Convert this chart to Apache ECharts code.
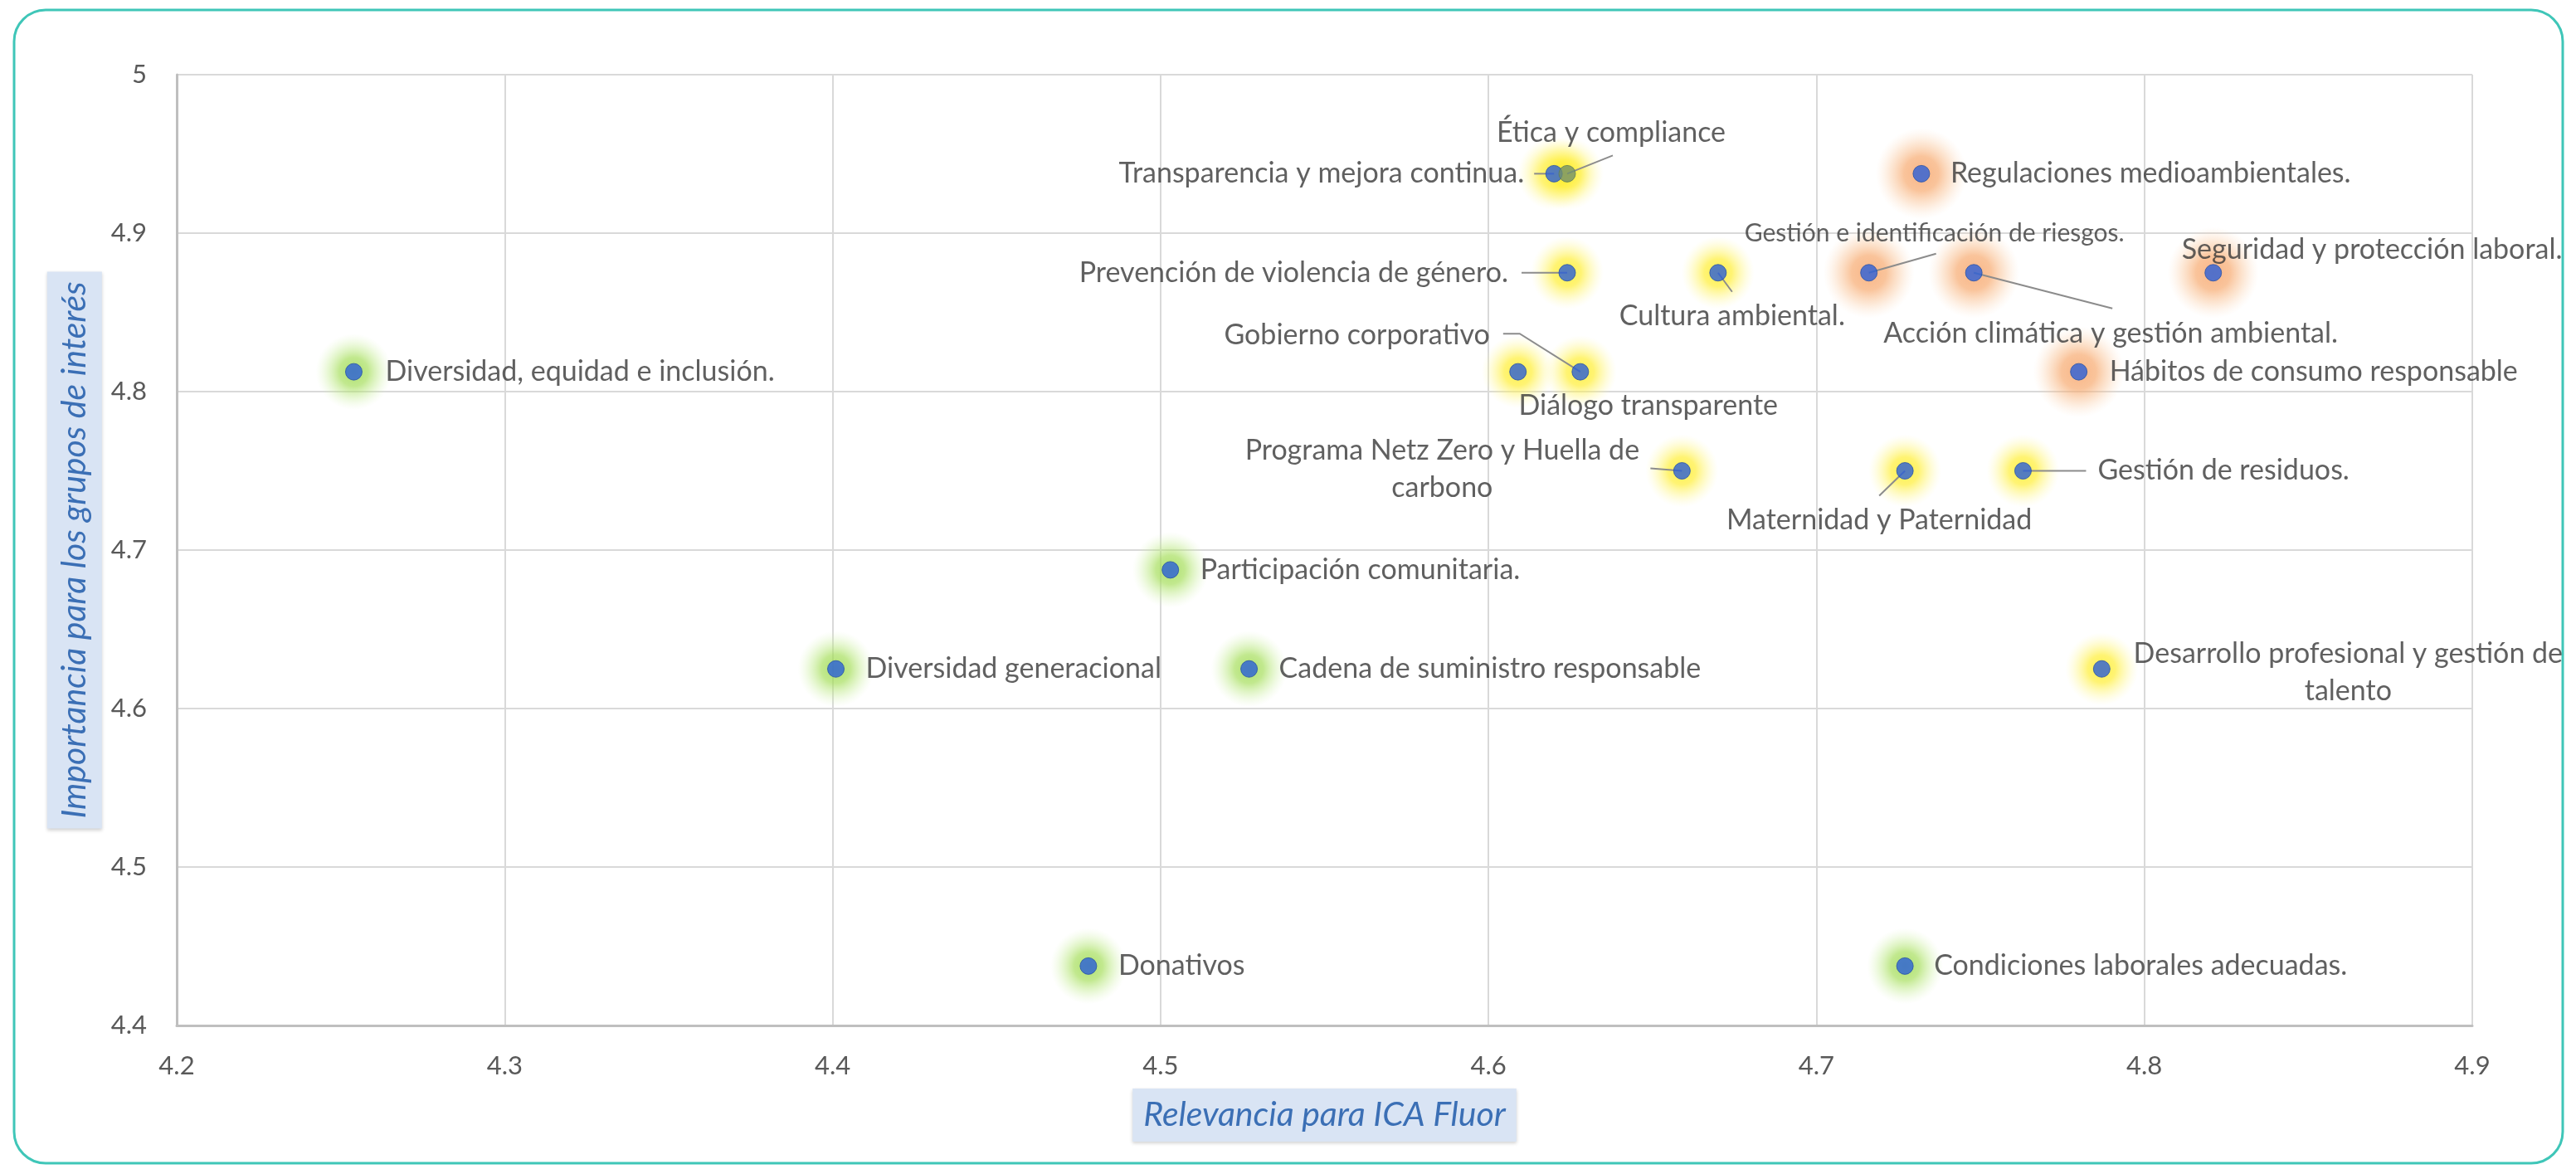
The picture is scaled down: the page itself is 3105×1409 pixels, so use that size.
<!DOCTYPE html>
<html>
<head>
<meta charset="utf-8">
<script src="https://cdn.jsdelivr.net/npm/echarts@6/dist/echarts.min.js"></script>
<style>
  html, body { margin: 0; padding: 0; background: #ffffff; }
  #chart { width: 3105px; height: 1409px; }
</style>
</head>
<body>
<div id="chart"></div>
<script>
// temas materiales
const temas = [
  'Diversidad, equidad e inclusión.',
  'Diversidad generacional',
  'Participación comunitaria.',
  'Donativos',
  'Cadena de suministro responsable',
  'Condiciones laborales adecuadas.',
  'Regulaciones medioambientales.',
  'Hábitos de consumo responsable',
  'Seguridad y protección laboral.',
  'Gestión de residuos.',
  'Desarrollo profesional y gestión de\ntalento',
  'Transparencia y mejora continua.',
  'Ética y compliance',
  'Prevención de violencia de género.',
  'Cultura ambiental.',
  'Gestión e identificación de riesgos.',
  'Acción climática y gestión ambiental.',
  'Gobierno corporativo',
  'Diálogo transparente',
  'Programa Netz Zero y Huella de\ncarbono',
  'Maternidad y Paternidad'
];
// eje x: relevancia para ICA Fluor
const relevancia = [4.254, 4.401, 4.503, 4.478, 4.527, 4.727, 4.732, 4.780, 4.821, 4.763, 4.787,
                    4.620, 4.624, 4.624, 4.670, 4.716, 4.748, 4.628, 4.609, 4.659, 4.727];
// eje y: importancia para los grupos de interés
const importancia = [4.8125, 4.625, 4.6875, 4.4375, 4.625, 4.4375, 4.9375, 4.8125, 4.875, 4.75, 4.625,
                     4.9375, 4.9375, 4.875, 4.875, 4.875, 4.875, 4.8125, 4.8125, 4.75, 4.75];
// nivel de prioridad (color del halo)
const prioridad = ['baja', 'baja', 'baja', 'baja', 'baja', 'baja', 'alta', 'alta', 'alta', 'media', 'media',
                   'media', 'media', 'media', 'media', 'alta', 'alta', 'media', 'media', 'media', 'media'];

const ejeX = { min: 4.2, max: 4.9, interval: 0.1 };
const ejeY = { min: 4.4, max: 5, interval: 0.1 };

// colocación de etiquetas respecto al punto: [dx, dy, align, tamaño]
const posEtiqueta = [
  [38, 0, 'left'], [36, 0, 'left'], [36, 0, 'left'], [36, 0, 'left'],
  [36, 0, 'left'], [35, 0, 'left'], [35, 0, 'left'], [37, 0, 'left'],
  [-38, -28, 'left'], [90, 0, 'left'], [297, 4, 'center'],
  [-36, 0, 'right'], [53, -49, 'center'], [-71, 0, 'right'],
  [17, 52, 'center'], [79, -47, 'center', 30], [165, 73, 'center'],
  [-109, -44, 'right'], [157, 41, 'center'], [-289, -2, 'center'],
  [-31, 60, 'center']
];
// líneas guía (puntos relativos al centro del punto)
const guias = [
  null, null, null, null, null, null, null, null, null,
  [[76, 0]], null,
  [[-24, 0]], [[55, -22]], [[-55, 0]],
  [[17, 23]], [[81, -23]], [[167, 43]],
  [[-73, -46], [-93, -46]], null, [[-38, -3]],
  [[-31, 30]]
];

const halo = {
  alta:  { size: 110, c: ['rgba(246,158,96,0.95)', 'rgba(247,168,108,0.85)', 'rgba(249,190,140,0.45)', 'rgba(252,220,190,0)'] },
  media: { size: 88, c: ['rgba(255,236,20,0.95)', 'rgba(255,238,50,0.85)', 'rgba(255,244,110,0.45)', 'rgba(255,250,180,0)'] },
  baja:  { size: 92, c: ['rgba(148,214,64,0.95)', 'rgba(165,222,90,0.85)', 'rgba(190,234,135,0.45)', 'rgba(220,244,190,0)'] }
};

const font = 'Lato, "Noto Sans", sans-serif';

const haloData = relevancia.map((x, i) => {
  const h = halo[prioridad[i]];
  return {
    value: [x, importancia[i]],
    symbolSize: h.size,
    itemStyle: {
      color: {
        type: 'radial', x: 0.5, y: 0.5, r: 0.5,
        colorStops: [
          { offset: 0, color: h.c[0] }, { offset: 0.38, color: h.c[1] },
          { offset: 0.68, color: h.c[2] }, { offset: 1, color: h.c[3] }
        ]
      }
    }
  };
});

const puntos = relevancia.map((x, i) => {
  const e = posEtiqueta[i];
  const item = { name: temas[i], value: [x, importancia[i]] };
  if (e[3]) item.label = { fontSize: e[3] };
  if (temas[i] === 'Ética y compliance') item.itemStyle = { color: '#72906c', borderColor: '#5c7a58' };
  return item;
});

const chart = echarts.init(document.getElementById('chart'), null, { renderer: 'canvas' });

chart.setOption({
  backgroundColor: '#ffffff',
  animation: false,
  textStyle: { fontFamily: font },
  grid: { left: 213, right: 125, top: 90, bottom: 173, outerBoundsMode: 'none' },
  graphic: [{
    type: 'rect',
    shape: { x: 17, y: 12, width: 3072, height: 1390, r: 38 },
    style: { fill: 'none', stroke: '#3fc6b8', lineWidth: 3 },
    silent: true, z: -1
  }],
  xAxis: {
    type: 'value',
    min: ejeX.min, max: ejeX.max, interval: ejeX.interval,
    name: 'Relevancia para ICA Fluor',
    nameLocation: 'middle',
    nameGap: 76,
    nameTextStyle: {
      fontFamily: font, fontStyle: 'italic', fontSize: 41, color: '#3b6fb5',
      backgroundColor: '#d9e4f4', padding: [9, 13, 9, 13], lineHeight: 46,
      shadowColor: 'rgba(0,0,0,0.18)', shadowBlur: 4, shadowOffsetY: 2
    },
    axisLine: { show: true, lineStyle: { color: '#bfbfbf', width: 3 } },
    axisTick: { show: false },
    axisLabel: { fontFamily: font, fontSize: 31, color: '#595959', margin: 33 },
    splitLine: { show: true, lineStyle: { color: '#d9d9d9', width: 2 } }
  },
  yAxis: {
    type: 'value',
    min: ejeY.min, max: ejeY.max, interval: ejeY.interval,
    name: 'Importancia para los grupos de interés',
    nameLocation: 'middle',
    nameGap: 86,
    nameTextStyle: {
      fontFamily: font, fontStyle: 'italic', fontSize: 41, color: '#3b6fb5',
      backgroundColor: '#d9e4f4', padding: [10, 12, 10, 12], lineHeight: 46,
      shadowColor: 'rgba(0,0,0,0.18)', shadowBlur: 4, shadowOffsetY: 2
    },
    axisLine: { show: true, lineStyle: { color: '#bfbfbf', width: 3 } },
    axisTick: { show: false },
    axisLabel: { fontFamily: font, fontSize: 31, color: '#595959', margin: 36 },
    splitLine: { show: true, lineStyle: { color: '#d9d9d9', width: 2 } }
  },
  series: [
    {
      name: 'halo',
      type: 'scatter',
      silent: true,
      z: 1,
      data: haloData
    },
    {
      name: 'guias',
      type: 'custom',
      silent: true,
      z: 2,
      data: relevancia.map((x, i) => [x, importancia[i]]),
      renderItem: function (params, api) {
        const g = guias[params.dataIndex];
        if (!g) return null;
        const c = api.coord([api.value(0), api.value(1)]);
        const pts = [c].concat(g.map(o => [c[0] + o[0], c[1] + o[1]]));
        return {
          type: 'polyline',
          shape: { points: pts },
          style: { stroke: '#8c8c8c', lineWidth: 2, fill: null }
        };
      }
    },
    {
      name: 'temas',
      type: 'scatter',
      z: 3,
      symbolSize: 20,
      itemStyle: { color: '#2a5fd8', borderColor: '#2450a8', borderWidth: 1 },
      label: {
        show: true,
        formatter: p => p.name,
        fontFamily: font,
        fontSize: 34,
        lineHeight: 45,
        color: '#383838'
      },
      labelLayout: function (p) {
        const e = posEtiqueta[p.dataIndex];
        const cx = p.rect.x + p.rect.width / 2;
        const cy = p.rect.y + p.rect.height / 2;
        return { x: cx + e[0], y: cy + e[1], align: e[2], verticalAlign: 'middle' };
      },
      data: puntos
    }
  ]
});
</script>
</body>
</html>
